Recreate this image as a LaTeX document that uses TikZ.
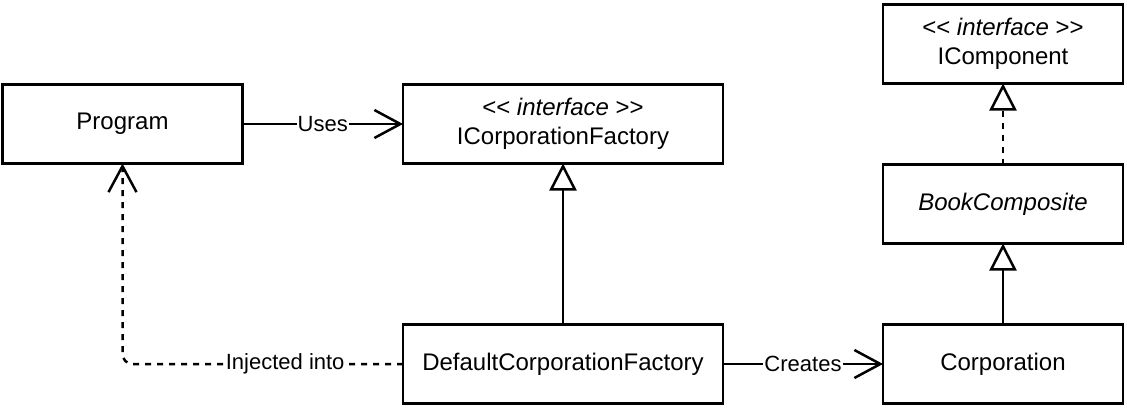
\documentclass[tikz,border=0pt]{standalone}
\usepackage{fontspec}
\setmainfont{Liberation Sans}
\usetikzlibrary{arrows.meta}
\tikzset{
  cls/.style={draw, line width=2.5pt, minimum width=240pt, minimum height=79pt, inner sep=0pt, outer sep=0pt, align=center, font=\fontsize{24}{29}\selectfont},
  widecls/.style={cls, minimum width=320pt},
  conn/.style={line width=2.5pt},
  dashconn/.style={conn, dash pattern=on 6pt off 6pt},
  openarrow/.style={-{Straight Barb[length=26pt,width=28pt,line width=2.5pt]}},
  inherit/.style={-{Triangle[open,length=27pt,width=27pt,line width=2.5pt,fill=white]}},
  lbl/.style={fill=white, inner sep=1pt, font=\fontsize{22}{26}\selectfont}
}
\newcommand{\stereo}{<{}< \textit{interface} >{}>}
\begin{document}
\begin{tikzpicture}[x=1pt,y=-1pt]
\useasboundingbox (0,0) rectangle (1127,407);
\node[cls] (prog) at (122.5,124) {Program};
\node[widecls] (icf) at (563,124) {\stereo\\ICorporationFactory};
\node[cls] (icomp) at (1003,44) {\stereo\\IComponent};
\node[cls] (book) at (1003,204) {\textit{BookComposite}};
\node[widecls] (dcf) at (563,364) {DefaultCorporationFactory};
\node[cls] (corp) at (1003,364) {Corporation};
\coordinate (bend) at (122.5,364);

\draw[conn, openarrow] (prog.east) -- node[lbl, pos=0.5] {Uses} (icf.west);
\draw[conn, openarrow] (dcf.east) -- node[lbl, pos=0.5] {Creates} (corp.west);
\draw[conn, inherit] (dcf.north) -- (icf.south);
\draw[conn, inherit] (corp.north) -- (book.south);
\draw[dashconn, inherit] (book.north) -- (icomp.south);
\draw[dashconn, openarrow, rounded corners=10pt] (dcf.west) -- node[lbl, pos=0.42] {Injected into} (bend) -- (prog.south);
\end{tikzpicture}
\end{document}
